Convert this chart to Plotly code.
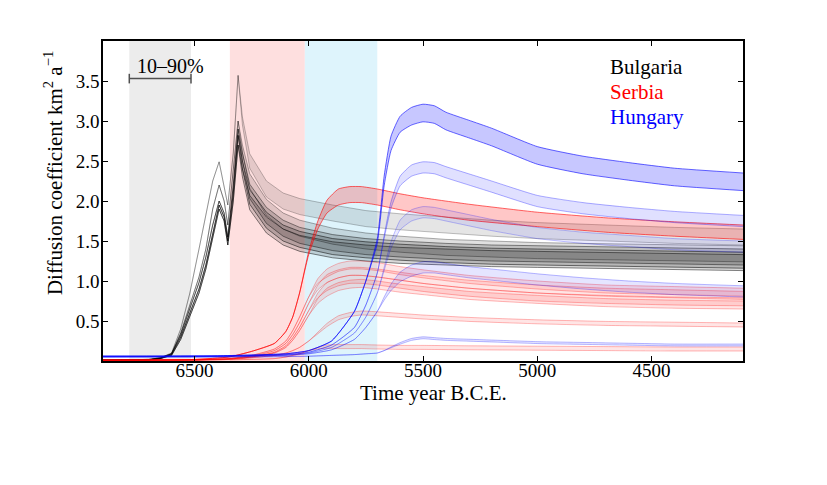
import plotly.graph_objects as go

# ---------------- data ----------------
bg_years = [6900, 6700, 6650, 6600, 6560, 6520, 6480, 6450, 6420, 6392, 6370, 6354, 6330, 6309,
            6290, 6258, 6185, 6112, 6039, 5895, 5750, 5600, 5400, 5200, 5000, 4800, 4600, 4400, 4100]
bg_light = [0.01, 0.02, 0.04, 0.10, 0.40, 0.85, 1.40, 1.85, 2.25, 2.49, 2.20, 1.95, 2.60, 3.57,
            3.00, 2.50, 2.15, 2.00, 1.93, 1.85, 1.78, 1.74, 1.70, 1.66, 1.63, 1.61, 1.59, 1.57, 1.55]
bg_mid = [0.01, 0.02, 0.04, 0.09, 0.35, 0.70, 1.05, 1.40, 1.90, 2.20, 2.00, 1.70, 2.40, 3.00,
          2.65, 2.25, 1.92, 1.75, 1.66, 1.56, 1.50, 1.46, 1.42, 1.40, 1.38, 1.37, 1.36, 1.35, 1.34]
bg_dark1 = [0.01, 0.015, 0.03, 0.08, 0.30, 0.60, 0.90, 1.20, 1.60, 1.95, 1.80, 1.50, 2.10, 2.82,
            2.45, 2.05, 1.76, 1.60, 1.52, 1.43, 1.39, 1.36, 1.33, 1.31, 1.30, 1.29, 1.28, 1.27, 1.26]
bg_dark2 = [0.01, 0.015, 0.03, 0.07, 0.27, 0.55, 0.85, 1.15, 1.55, 1.90, 1.75, 1.45, 2.00, 2.70,
            2.35, 1.98, 1.70, 1.55, 1.47, 1.39, 1.35, 1.32, 1.30, 1.28, 1.27, 1.26, 1.25, 1.24, 1.23]
bg_dark3 = [0.01, 0.015, 0.035, 0.09, 0.33, 0.65, 0.98, 1.30, 1.70, 2.00, 1.85, 1.55, 2.20, 2.90,
            2.55, 2.12, 1.82, 1.66, 1.57, 1.48, 1.43, 1.40, 1.37, 1.35, 1.34, 1.33, 1.32, 1.31, 1.30]
bg_amp = [0, 0, 0, 0, 0, 0, 0, 0, 0, 0, 0, 0, 0, 0,
          0.05, 0.09, 0.10, 0.10, 0.10, 0.10, 0.10, 0.10, 0.10, 0.10, 0.10, 0.10, 0.10, 0.10, 0.10]

rs_years = [6900, 6500, 6350, 6250, 6150, 6100, 6070, 6040, 6000, 5960, 5920, 5870, 5820, 5770,
            5700, 5600, 5500, 5300, 5000, 4700, 4400, 4100]
rs_1 = [0.01, 0.02, 0.05, 0.12, 0.22, 0.37, 0.55, 0.85, 1.35, 1.70, 1.93, 2.05, 2.08, 2.08,
        2.05, 1.99, 1.94, 1.86, 1.77, 1.70, 1.65, 1.61]
rs_1_amp = [0, 0, 0, 0, 0, 0, 0, 0, 0.02, 0.05, 0.08, 0.10, 0.10, 0.10,
            0.10, 0.10, 0.10, 0.10, 0.09, 0.09, 0.09, 0.09]
rs_2 = [0.01, 0.015, 0.03, 0.07, 0.15, 0.25, 0.38, 0.55, 0.80, 1.00, 1.10, 1.17, 1.20, 1.20,
        1.18, 1.13, 1.09, 1.02, 0.95, 0.90, 0.88, 0.86]
rs_3 = [0.01, 0.015, 0.03, 0.06, 0.13, 0.22, 0.33, 0.48, 0.72, 0.92, 1.03, 1.09, 1.12, 1.12,
        1.10, 1.06, 1.02, 0.96, 0.90, 0.86, 0.84, 0.82]
rs_4 = [0.01, 0.015, 0.025, 0.05, 0.11, 0.19, 0.29, 0.42, 0.63, 0.82, 0.93, 0.99, 1.02, 1.02,
        1.00, 0.96, 0.92, 0.86, 0.80, 0.77, 0.75, 0.74]
rs_5 = [0.01, 0.015, 0.025, 0.05, 0.10, 0.17, 0.26, 0.38, 0.57, 0.75, 0.86, 0.93, 0.96, 0.97,
        0.95, 0.91, 0.88, 0.82, 0.77, 0.73, 0.71, 0.70]
rs_6 = [0.01, 0.01, 0.02, 0.04, 0.07, 0.10, 0.13, 0.17, 0.25, 0.35, 0.45, 0.54, 0.58, 0.60,
        0.59, 0.57, 0.55, 0.52, 0.49, 0.47, 0.46, 0.45]
rs_7 = [0.01, 0.01, 0.015, 0.02, 0.03, 0.05, 0.07, 0.09, 0.13, 0.16, 0.18, 0.18, 0.18, 0.18,
        0.175, 0.17, 0.17, 0.165, 0.16, 0.155, 0.15, 0.15]
rs_amp = [0, 0, 0, 0, 0, 0, 0, 0, 0, 0.03, 0.05, 0.05, 0.05, 0.05,
          0.05, 0.05, 0.05, 0.05, 0.05, 0.05, 0.05, 0.05]
rs_small_amp = [0, 0, 0, 0, 0, 0, 0, 0, 0, 0.01, 0.02, 0.025, 0.025, 0.025,
                0.025, 0.025, 0.025, 0.025, 0.025, 0.025, 0.025, 0.025]

hu_years = [6900, 6400, 6100, 6000, 5900, 5800, 5750, 5700, 5670, 5640, 5600, 5550, 5500, 5450,
            5400, 5300, 5200, 5000, 4800, 4600, 4400, 4100]
hu_1 = [0.06, 0.065, 0.09, 0.13, 0.25, 0.62, 1.00, 1.50, 2.25, 2.72, 2.96, 3.06, 3.10, 3.08,
        3.00, 2.90, 2.80, 2.57, 2.45, 2.37, 2.30, 2.24]
hu_1_amp = [0, 0, 0, 0, 0, 0, 0, 0.03, 0.06, 0.09, 0.10, 0.11, 0.11, 0.11,
            0.11, 0.11, 0.11, 0.11, 0.11, 0.11, 0.11, 0.11]
hu_2 = [0.06, 0.06, 0.08, 0.11, 0.20, 0.42, 0.70, 1.10, 1.55, 1.95, 2.25, 2.38, 2.42, 2.41,
        2.36, 2.27, 2.18, 2.00, 1.91, 1.85, 1.80, 1.75]
hu_3 = [0.055, 0.06, 0.075, 0.10, 0.17, 0.35, 0.55, 0.85, 1.15, 1.45, 1.70, 1.82, 1.86, 1.85,
        1.82, 1.76, 1.70, 1.60, 1.54, 1.50, 1.46, 1.43]
hu_4 = [0.05, 0.055, 0.07, 0.09, 0.14, 0.27, 0.42, 0.62, 0.78, 0.92, 1.05, 1.13, 1.17, 1.17,
        1.15, 1.11, 1.08, 1.02, 0.97, 0.93, 0.90, 0.87]
hu_5 = [0.05, 0.05, 0.055, 0.06, 0.07, 0.08, 0.09, 0.10, 0.13, 0.17, 0.22, 0.27, 0.29, 0.28,
        0.27, 0.26, 0.25, 0.23, 0.22, 0.21, 0.20, 0.20]
hu_amp = [0, 0, 0, 0, 0, 0, 0, 0, 0.02, 0.04, 0.06, 0.07, 0.07, 0.07,
          0.07, 0.07, 0.07, 0.07, 0.07, 0.07, 0.07, 0.07]
hu_small_amp = [0, 0, 0, 0, 0, 0, 0, 0, 0, 0.005, 0.01, 0.012, 0.012, 0.012,
                0.012, 0.012, 0.012, 0.012, 0.012, 0.012, 0.012, 0.012]

# 10-90% spread windows (year B.C.E.)
spans = [(6785, 6515), (6345, 6017), (6017, 5700)]
span_colors = ["rgb(236,236,236)", "rgb(254,223,223)", "rgb(222,244,252)"]
spread_bar = (6785, 6515, 3.53)
spread_label_pos = (6603, 3.69)

xticks = [6500, 6000, 5500, 5000, 4500]
yticks = [0.5, 1.0, 1.5, 2.0, 2.5, 3.0, 3.5]

legend_names = ["Bulgaria", "Serbia", "Hungary"]
legend_colors = ["black", "rgb(255,0,0)", "rgb(0,0,255)"]

FONT = "Liberation Serif"

fig = go.Figure()


def band(years, mid, amp, rgb, alpha, fill_alpha, shape="linear", width=0.8):
    lo = [m - a for m, a in zip(mid, amp)]
    hi = [m + a for m, a in zip(mid, amp)]
    col = "rgba(%d,%d,%d,%.2f)" % (rgb + (alpha,))
    fcol = "rgba(%d,%d,%d,%.2f)" % (rgb + (fill_alpha,))
    ln = dict(color=col, width=width, shape=shape)
    if shape == "spline":
        ln["smoothing"] = 0.5
    fig.add_trace(go.Scatter(x=years, y=lo, mode="lines", line=ln,
                             showlegend=False, hoverinfo="skip"))
    fig.add_trace(go.Scatter(x=years, y=hi, mode="lines", line=ln,
                             fill="tonexty", fillcolor=fcol, showlegend=False, hoverinfo="skip"))


# Bulgaria
band(bg_years, bg_light, bg_amp, (0, 0, 0), 0.30, 0.10)
band(bg_years, bg_mid, bg_amp, (0, 0, 0), 0.40, 0.12)
band(bg_years, bg_dark3, bg_amp, (0, 0, 0), 0.55, 0.15)
band(bg_years, bg_dark1, bg_amp, (0, 0, 0), 0.65, 0.16)
band(bg_years, bg_dark2, bg_amp, (0, 0, 0), 0.60, 0.15)
# Serbia
band(rs_years, rs_7, rs_small_amp, (255, 0, 0), 0.35, 0.10, "spline")
band(rs_years, rs_6, rs_small_amp, (255, 0, 0), 0.35, 0.10, "spline")
band(rs_years, rs_5, rs_amp, (255, 0, 0), 0.35, 0.10, "spline")
band(rs_years, rs_4, rs_amp, (255, 0, 0), 0.35, 0.10, "spline")
band(rs_years, rs_3, rs_amp, (255, 0, 0), 0.35, 0.10, "spline")
band(rs_years, rs_2, rs_amp, (255, 0, 0), 0.35, 0.10, "spline")
band(rs_years, rs_1, rs_1_amp, (255, 0, 0), 0.75, 0.22, "spline")
# Hungary
band(hu_years, hu_5, hu_small_amp, (0, 0, 255), 0.35, 0.10, "spline")
band(hu_years, hu_4, hu_amp, (0, 0, 255), 0.35, 0.10, "spline")
band(hu_years, hu_3, hu_amp, (0, 0, 255), 0.30, 0.08, "spline")
band(hu_years, hu_2, hu_amp, (0, 0, 255), 0.40, 0.12, "spline")
band(hu_years, hu_1, hu_1_amp, (0, 0, 255), 0.75, 0.22, "spline")

# shaded windows
for (a, b), c in zip(spans, span_colors):
    fig.add_vrect(x0=a, x1=b, fillcolor=c, opacity=1, line_width=0, layer="below")

# 10-90% bar
x0, x1, yb = spread_bar
bar_col = "rgb(80,80,80)"
fig.add_shape(type="line", x0=x0, x1=x1, y0=yb, y1=yb, line=dict(color=bar_col, width=1.5))
fig.add_shape(type="line", x0=x0, x1=x0, y0=yb - 0.06, y1=yb + 0.06, line=dict(color=bar_col, width=1.5))
fig.add_shape(type="line", x0=x1, x1=x1, y0=yb - 0.06, y1=yb + 0.06, line=dict(color=bar_col, width=1.5))
fig.add_annotation(x=spread_label_pos[0], y=spread_label_pos[1], text="10–90%", showarrow=False,
                   font=dict(family=FONT, size=20, color="black"), xanchor="center", yanchor="middle")

# legend as text
for i, (n, c) in enumerate(zip(legend_names, legend_colors)):
    fig.add_annotation(xref="paper", yref="paper", x=0.789, y=0.92 - i * 0.078, text=n,
                       showarrow=False, xanchor="left", yanchor="middle",
                       font=dict(family=FONT, size=21, color=c))

# axis titles
fig.add_annotation(xref="paper", yref="paper", x=0.517, y=-0.1, text="Time year B.C.E.",
                   showarrow=False, xanchor="center", yanchor="middle",
                   font=dict(family=FONT, size=21, color="black"))
fig.add_annotation(xref="paper", yref="paper", x=-0.078, y=0.5875,
                   text="Diffusion coefficient km<sup>2</sup> a<sup>−1</sup>",
                   textangle=-90, showarrow=False, xanchor="center", yanchor="middle",
                   font=dict(family=FONT, size=21, color="black"))

axis_common = dict(showline=True, linecolor="black", linewidth=1.5, mirror="allticks",
                   ticks="inside", ticklen=5, tickwidth=1, tickcolor="black",
                   showgrid=False, zeroline=False,
                   tickfont=dict(family=FONT, size=19, color="black"))

fig.update_xaxes(range=[6900, 4100], tickvals=xticks, ticktext=[str(v) for v in xticks],
                 ticklabelstandoff=-9, **axis_common)
fig.update_yaxes(range=[0, 4.0], tickvals=yticks, ticktext=["%.1f" % v for v in yticks],
                 ticklabelstandoff=-2, **axis_common)

fig.update_layout(width=827, height=485, margin=dict(l=103, r=84, t=41, b=124),
                  plot_bgcolor="white", paper_bgcolor="white", showlegend=False)

fig.write_html("out.html")
